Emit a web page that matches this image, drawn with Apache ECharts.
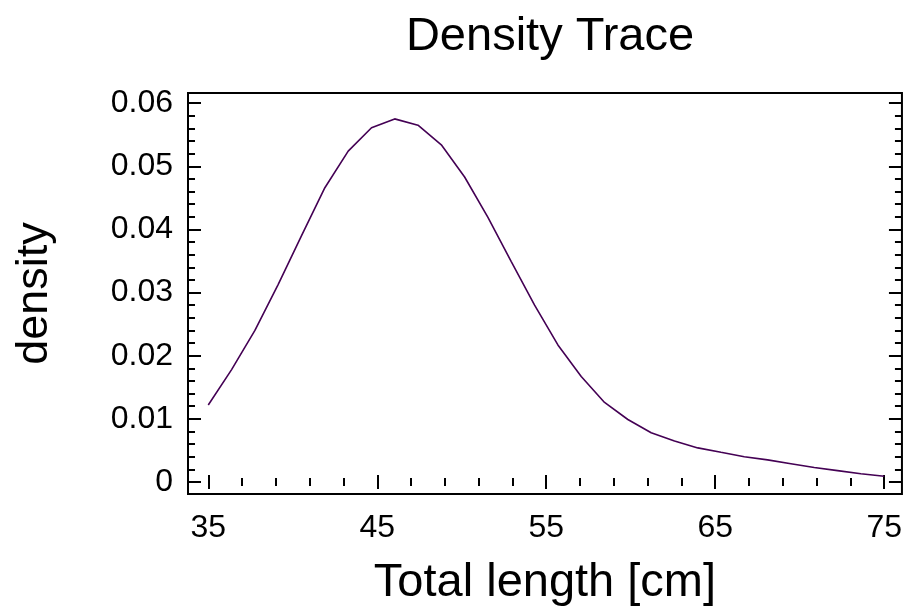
<!DOCTYPE html>
<html>
<head>
<meta charset="utf-8">
<script src="https://cdn.jsdelivr.net/npm/echarts@6/dist/echarts.min.js"></script>
<style>
html,body{margin:0;padding:0;background:#fff;}
#chart{width:905px;height:612px;}
</style>
</head>
<body>
<div id="chart"></div>
<script>
// Data
const lengthValues = [35, 36.38, 37.76, 39.14, 40.52, 41.90, 43.28, 44.66, 46.03, 47.41,
  48.79, 50.17, 51.55, 52.93, 54.31, 55.69, 57.07, 58.45, 59.83, 61.21,
  62.59, 63.97, 65.34, 66.72, 68.10, 69.48, 70.86, 72.24, 73.62, 75];
const densityValues = [0.0122, 0.0178, 0.0240, 0.0313, 0.0390, 0.0466, 0.0524, 0.0561, 0.0575, 0.0565,
  0.0534, 0.0483, 0.0419, 0.0349, 0.0280, 0.0217, 0.0167, 0.0126, 0.0099, 0.0078,
  0.0065, 0.0054, 0.0047, 0.0040, 0.0035, 0.0029, 0.0023, 0.0018, 0.0013, 0.0009];
const xMajorTicks = [35, 45, 55, 65, 75];
const xMinorTicks = [37, 39, 41, 43, 47, 49, 51, 53, 57, 59, 61, 63, 67, 69, 71, 73];
const yMajorTicks = [0, 0.01, 0.02, 0.03, 0.04, 0.05, 0.06];
const yMinorTicks = [0.002, 0.004, 0.006, 0.008, 0.012, 0.014, 0.016, 0.018, 0.022, 0.024, 0.026, 0.028,
  0.032, 0.034, 0.036, 0.038, 0.042, 0.044, 0.046, 0.048, 0.052, 0.054, 0.056, 0.058];
const titleText = 'Density Trace';
const xAxisTitle = 'Total length [cm]';
const yAxisTitle = 'density';

const FONT = '"Liberation Sans", Arial, Helvetica, sans-serif';
const X_MIN = 33.8, X_MAX = 76.05;
const Y_MIN = -0.0019, Y_MAX = 0.0616;

function xAxisCfg(position, ticks, len, withLabels) {
  const cfg = {
    type: 'value', position: position, min: X_MIN, max: X_MAX,
    axisLine: { show: false },
    splitLine: { show: false },
    axisTick: { show: true, inside: true, length: len, customValues: ticks,
      lineStyle: { color: '#000', width: 2 } },
    axisLabel: { show: false }
  };
  if (withLabels) {
    cfg.axisLabel = { show: true, customValues: ticks, margin: 18,
      color: '#000', fontSize: 32, fontFamily: FONT };
    cfg.name = xAxisTitle;
    cfg.nameLocation = 'middle';
    cfg.nameGap = 66;
    cfg.nameTextStyle = { color: '#000', fontSize: 47, fontFamily: FONT };
  }
  return cfg;
}
function yAxisCfg(position, ticks, len, withLabels) {
  const cfg = {
    type: 'value', position: position, min: Y_MIN, max: Y_MAX,
    axisLine: { show: false },
    splitLine: { show: false },
    axisTick: { show: true, inside: true, length: len, customValues: ticks,
      lineStyle: { color: '#000', width: 2 } },
    axisLabel: { show: false }
  };
  if (withLabels) {
    cfg.axisLabel = { show: true, customValues: ticks, margin: 15,
      color: '#000', fontSize: 32, fontFamily: FONT,
      formatter: function (v) { return v === 0 ? '0' : v.toFixed(2); } };
    cfg.name = yAxisTitle;
    cfg.nameLocation = 'middle';
    cfg.nameGap = 131;
    cfg.nameRotate = 90;
    cfg.nameTextStyle = { color: '#000', fontSize: 45, fontFamily: FONT };
  }
  return cfg;
}

const chart = echarts.init(document.getElementById('chart'), null, { renderer: 'canvas' });
chart.setOption({
  animation: false,
  backgroundColor: '#fff',
  title: {
    text: titleText, left: 545, textAlign: 'center', top: 9,
    textStyle: { color: '#000', fontSize: 47, fontWeight: 'normal', fontFamily: FONT }
  },
  grid: {
    left: 188, right: 3, top: 93, bottom: 118,
    show: true, borderColor: '#000', borderWidth: 2, backgroundColor: 'transparent'
  },
  xAxis: [
    xAxisCfg('bottom', xMajorTicks, 7, true),
    xAxisCfg('bottom', xMinorTicks, 4, false),
    xAxisCfg('top', xMajorTicks, 7, false),
    xAxisCfg('top', xMinorTicks, 4, false)
  ],
  yAxis: [
    yAxisCfg('left', yMajorTicks, 13, true),
    yAxisCfg('left', yMinorTicks, 7, false),
    yAxisCfg('right', yMajorTicks, 13, false),
    yAxisCfg('right', yMinorTicks, 7, false)
  ],
  series: [{
    type: 'line',
    xAxisIndex: 0, yAxisIndex: 0,
    data: lengthValues.map(function (x, i) { return [x, densityValues[i]]; }),
    showSymbol: false,
    smooth: false,
    lineStyle: { color: '#440154', width: 1.6 },
    itemStyle: { color: '#440154' }
  }]
});
</script>
</body>
</html>
